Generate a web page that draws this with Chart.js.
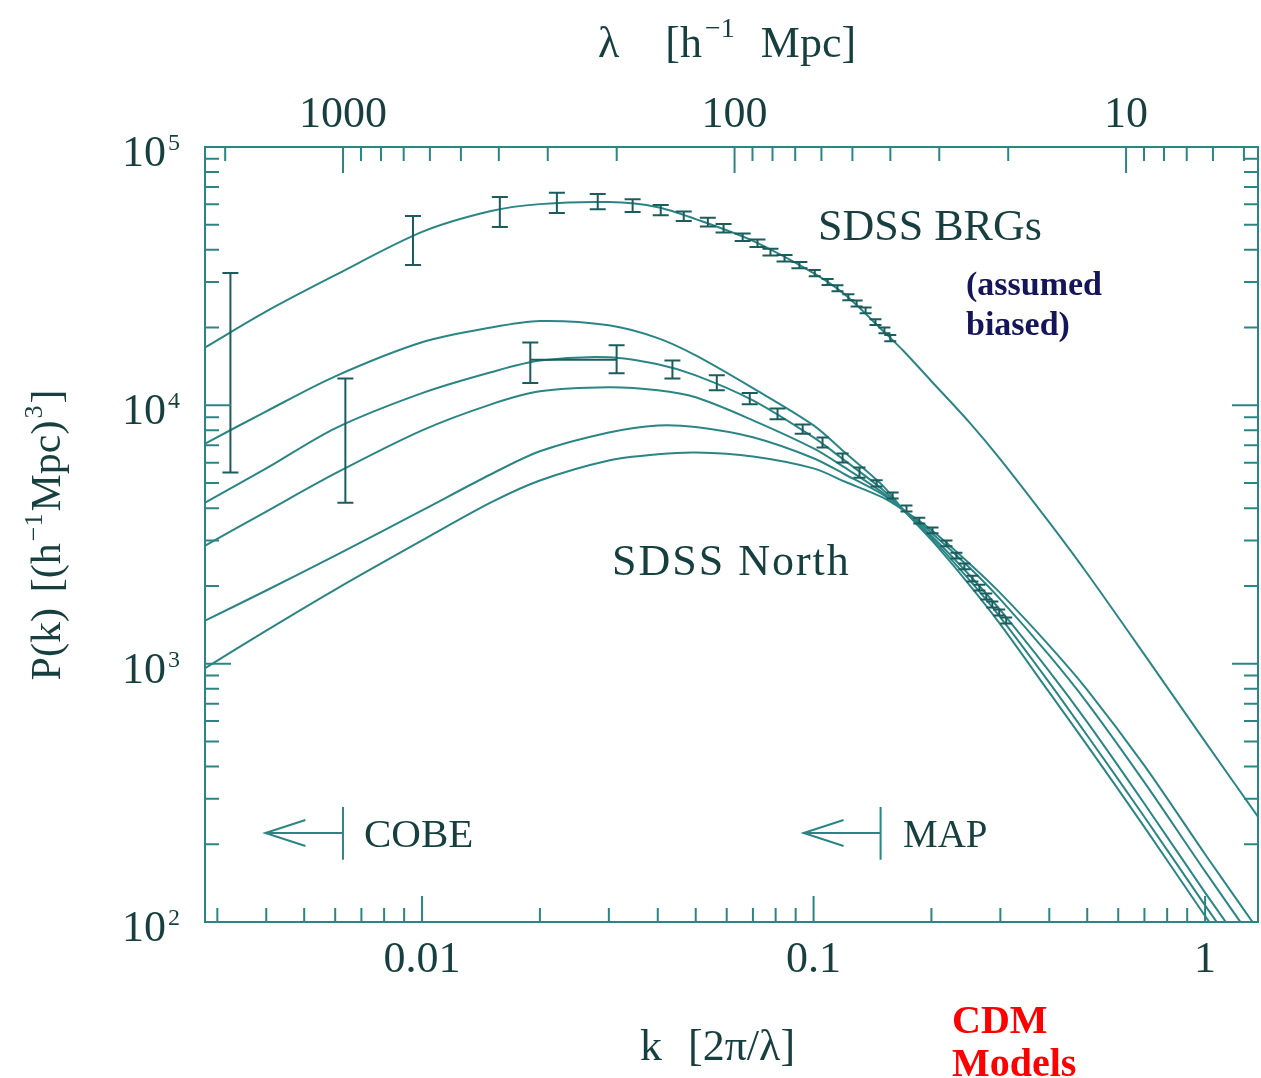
<!DOCTYPE html>
<html>
<head>
<meta charset="utf-8">
<script src="https://cdn.jsdelivr.net/npm/chart.js@4.4.1/dist/chart.umd.min.js"></script>
<style>
  html, body { margin: 0; padding: 0; background: #fff; }
  #wrap { width: 1261px; height: 1078px; }
</style>
</head>
<body>
<div id="wrap"><canvas id="pk" width="1261" height="1078"></canvas></div>
<script>
const kModel = [0.0028, 0.004, 0.006, 0.01, 0.015, 0.02, 0.03, 0.04, 0.05, 0.07, 0.1, 0.12, 0.15, 0.17, 0.2, 0.25, 0.3, 0.4, 0.5, 0.7, 1.0, 1.4];

// CDM model curves, P(k)
const pBRG    = [16800, 23100, 31900, 46900, 56500, 60100, 61200, 58500, 52600, 43300, 32500, 26900, 19500, 16200, 12400, 8590, 6180, 3520, 2233, 1084, 499, 242];
const pModelA = [7130, 9480, 12950, 17540, 20000, 21200, 20400, 18200, 15600, 11650, 8360, 6580, 4900, 3920, 3013, 2018, 1419, 774, 483, 233, 105.5, 51];
const pModelB = [4210, 5700, 8150, 11150, 13430, 14900, 15350, 14420, 13060, 10450, 7510, 6120, 4720, 3920, 3069, 2109, 1511, 845, 527, 255, 116, 55.8];
const pModelC = [2870, 3880, 5450, 8000, 10090, 11330, 11740, 11430, 10740, 8750, 6810, 5750, 4600, 3920, 3127, 2203, 1611, 934, 594, 287, 130, 63];
const pModelD = [1470, 1920, 2620, 3920, 5410, 6640, 7850, 8360, 8240, 7520, 6240, 5410, 4520, 3920, 3214, 2356, 1774, 1076, 705, 347, 157, 75.7];
const pModelE = [964, 1343, 1936, 3000, 4210, 5120, 6120, 6460, 6570, 6340, 5700, 5070, 4400, 3920, 3290, 2443, 1875, 1175, 792, 403, 183, 88.3];

// SDSS BRG forecast points
const kBRG = [0.00324, 0.00948, 0.0158, 0.0221, 0.0281, 0.0345, 0.0407, 0.0466, 0.0537, 0.0589, 0.0659, 0.0719, 0.0776, 0.0843, 0.0920, 0.1007, 0.1086, 0.1151, 0.1227, 0.1288, 0.1358, 0.1439, 0.1517, 0.1570];
const pBRGdata = [19000, 44500, 56500, 61000, 61600, 59400, 57000, 54000, 51200, 48500, 44800, 42400, 39200, 37100, 34900, 32500, 30000, 28400, 26200, 24800, 23300, 21000, 19500, 18200];
const eBRG = [13500, 9600, 7500, 5500, 4200, 3400, 2600, 2300, 2000, 1800, 1500, 1400, 1200, 1100, 1000, 900, 800, 750, 700, 650, 600, 550, 500, 500];

// SDSS North forecast points
const kNorth = [0.00637, 0.0189, 0.0314, 0.0436, 0.0566, 0.0687, 0.0809, 0.0938, 0.1054, 0.1186, 0.1310, 0.1449, 0.1592, 0.1727, 0.1862, 0.2013, 0.2185, 0.2317, 0.2428, 0.2545, 0.2652, 0.2762, 0.2862, 0.2980, 0.3105];
const pNorth = [8450, 14850, 15200, 13800, 12250, 10620, 9280, 8100, 7190, 6260, 5500, 4990, 4480, 3990, 3580, 3280, 2920, 2620, 2380, 2135, 1970, 1820, 1695, 1578, 1470];
const eNorth = [4250, 2650, 1900, 1100, 820, 530, 450, 330, 320, 250, 250, 135, 120, 105, 95, 85, 75, 68, 60, 55, 50, 47, 44, 41, 38];
const northSpanK = [0.0189, 0.0314];
const northSpanP = 15000;

// axis ticks
const kMajor = [0.01, 0.1, 1];
const kMajorLabels = ['0.01', '0.1', '1'];
const kMinor = [0.003, 0.004, 0.005, 0.006, 0.007, 0.008, 0.009, 0.02, 0.03, 0.04, 0.05, 0.06, 0.07, 0.08, 0.09, 0.2, 0.3, 0.4, 0.5, 0.6, 0.7, 0.8, 0.9];
const lamMajor = [1000, 100, 10];
const lamMajorLabels = ['1000', '100', '10'];
const lamMinor = [2000, 900, 800, 700, 600, 500, 400, 300, 200, 90, 80, 70, 60, 50, 40, 30, 20, 9, 8, 7, 6, 5];
const pMajor = [100, 1000, 10000, 100000];
const pMajorExp = ['2', '3', '4', '5'];
const pMinor = [200, 300, 400, 500, 600, 700, 800, 900, 2000, 3000, 4000, 5000, 6000, 7000, 8000, 9000, 20000, 30000, 40000, 50000, 60000, 70000, 80000, 90000];

// survey limits (COBE, MAP) : arrow tip k, bar k
const cobeK = [0.00398, 0.00628];
const mapK = [0.0943, 0.1483];
const limitP = 221;
const limitBarP = [174, 279];

const lineColor = '#2b8585';
const barColor = '#1c5c5c';
const ink = '#173f3f';
const serif = '"Liberation Serif", "Times New Roman", serif';

function pts(ks, ps) {
  return ks.map((k, i) => ({ x: k, y: ps[i] }));
}

function model(vals) {
  return {
    data: pts(kModel, vals),
    showLine: true,
    borderColor: lineColor,
    borderWidth: 2,
    pointRadius: 0,
    tension: 0.3,
    fill: false
  };
}

// draws a run of [text, size, raise, gap] pieces starting at x
function rich(ctx, parts, x, y) {
  let cx = x;
  parts.forEach(([txt, size, raise, gap]) => {
    ctx.font = size + 'px ' + serif;
    ctx.fillText(txt, cx, y - (raise || 0));
    cx += ctx.measureText(txt).width + (gap || 0);
  });
  return cx - x;
}

const errorBars = {
  id: 'errorBars',
  afterDatasetsDraw(chart) {
    const { ctx, chartArea: a, scales: { x, y } } = chart;
    ctx.save();
    ctx.beginPath();
    ctx.rect(a.left, a.top, a.right - a.left, a.bottom - a.top);
    ctx.clip();
    ctx.strokeStyle = barColor;
    ctx.lineWidth = 2;
    chart.data.datasets.forEach(ds => {
      if (!ds.errors) return;
      ds.data.forEach((pt, i) => {
        const px = x.getPixelForValue(pt.x);
        const e = ds.errors[i];
        const y1 = y.getPixelForValue(pt.y + e);
        const y2 = y.getPixelForValue(pt.y - e);
        const cw = pt.x < 0.1 ? 8 : 6;
        ctx.beginPath();
        ctx.moveTo(px, y1); ctx.lineTo(px, y2);
        ctx.moveTo(px - cw, y1); ctx.lineTo(px + cw, y1);
        ctx.moveTo(px - cw, y2); ctx.lineTo(px + cw, y2);
        ctx.stroke();
      });
    });
    // horizontal bin bar of the SDSS North point
    ctx.beginPath();
    const sy = y.getPixelForValue(northSpanP);
    ctx.moveTo(x.getPixelForValue(northSpanK[0]), sy);
    ctx.lineTo(x.getPixelForValue(northSpanK[1]), sy);
    ctx.stroke();
    ctx.restore();
  }
};

const decor = {
  id: 'decor',
  afterDraw(chart) {
    const { ctx, chartArea: a, scales: { x, y } } = chart;
    ctx.save();
    ctx.strokeStyle = lineColor;
    ctx.lineWidth = 2;
    ctx.strokeRect(a.left, a.top, a.right - a.left, a.bottom - a.top);

    const major = 26, minor = 14;
    ctx.beginPath();
    kMajor.forEach(k => { const px = x.getPixelForValue(k); ctx.moveTo(px, a.bottom); ctx.lineTo(px, a.bottom - major); });
    kMinor.forEach(k => { const px = x.getPixelForValue(k); ctx.moveTo(px, a.bottom); ctx.lineTo(px, a.bottom - minor); });
    lamMajor.forEach(l => { const px = x.getPixelForValue(2 * Math.PI / l); ctx.moveTo(px, a.top); ctx.lineTo(px, a.top + major); });
    lamMinor.forEach(l => { const px = x.getPixelForValue(2 * Math.PI / l); ctx.moveTo(px, a.top); ctx.lineTo(px, a.top + minor); });
    pMajor.forEach(p => {
      const py = y.getPixelForValue(p);
      ctx.moveTo(a.left, py); ctx.lineTo(a.left + major, py);
      ctx.moveTo(a.right, py); ctx.lineTo(a.right - major, py);
    });
    pMinor.forEach(p => {
      const py = y.getPixelForValue(p);
      ctx.moveTo(a.left, py); ctx.lineTo(a.left + minor, py);
      ctx.moveTo(a.right, py); ctx.lineTo(a.right - minor, py);
    });
    ctx.stroke();

    ctx.fillStyle = ink;
    ctx.textBaseline = 'alphabetic';

    // bottom k labels
    ctx.font = '44px ' + serif;
    ctx.textAlign = 'center';
    kMajor.forEach((k, i) => ctx.fillText(kMajorLabels[i], x.getPixelForValue(k), a.bottom + 50));
    // top lambda labels
    lamMajor.forEach((l, i) => ctx.fillText(lamMajorLabels[i], x.getPixelForValue(2 * Math.PI / l), a.top - 20));

    // left P labels 10^n
    ctx.textAlign = 'left';
    pMajor.forEach((p, i) => {
      const py = y.getPixelForValue(p);
      ctx.font = '44px ' + serif;
      const w10 = ctx.measureText('10').width;
      ctx.font = '24px ' + serif;
      const ws = ctx.measureText(pMajorExp[i]).width;
      const x0 = 180 - ws - 2 - w10;
      ctx.font = '44px ' + serif;
      ctx.fillText('10', x0, py + 19);
      ctx.font = '24px ' + serif;
      ctx.fillText(pMajorExp[i], x0 + w10 + 2, py + 3);
    });

    // axis titles
    rich(ctx, [['\u03bb', 44, 0, 46], ['[h', 44, 0, 3], ['\u22121', 28, 20, 26], ['Mpc]', 44, 0]], 598, 57);
    rich(ctx, [['k', 44, 0, 26], ['[2\u03c0/\u03bb]', 44, 0]], 640, 1060);

    ctx.save();
    ctx.translate(60, 535);
    ctx.rotate(-Math.PI / 2);
    const parts = [['P(k)', 42, 0, 16], ['[(h', 42, 0, 2], ['\u22121', 26, 18, 2], ['Mpc)', 42, 0, 2], ['3', 26, 18, 2], [']', 42, 0]];
    let tw = 0;
    parts.forEach(([t, s, r, g]) => { ctx.font = s + 'px ' + serif; tw += ctx.measureText(t).width + (g || 0); });
    rich(ctx, parts, -tw / 2, 0);
    ctx.restore();

    // survey labels
    ctx.font = '44px ' + serif;
    ctx.fillText('SDSS BRGs', 818, 240);
    ctx.letterSpacing = '2px';
    ctx.fillText('SDSS North', 612, 575);
    ctx.letterSpacing = '0px';
    ctx.font = '41px ' + serif;
    ctx.fillText('COBE', 364, 847);
    ctx.font = '39px ' + serif;
    ctx.fillText('MAP', 903, 847);

    // COBE / MAP limit arrows
    ctx.strokeStyle = lineColor;
    ctx.lineWidth = 2;
    [cobeK, mapK].forEach(([tipK, barK]) => {
      const tx = x.getPixelForValue(tipK), bx = x.getPixelForValue(barK);
      const yy = y.getPixelForValue(limitP);
      const yt = y.getPixelForValue(limitBarP[1]), yb = y.getPixelForValue(limitBarP[0]);
      ctx.beginPath();
      ctx.moveTo(tx, yy); ctx.lineTo(bx, yy);
      ctx.moveTo(bx, yt); ctx.lineTo(bx, yb);
      ctx.moveTo(tx + 40, yy - 13); ctx.lineTo(tx, yy); ctx.lineTo(tx + 40, yy + 13);
      ctx.stroke();
    });

    // overlaid notes
    ctx.fillStyle = '#15155a';
    ctx.font = 'bold 34px ' + serif;
    ctx.fillText('(assumed', 966, 295);
    ctx.fillText('biased)', 966, 335);
    ctx.fillStyle = '#ff0000';
    ctx.font = 'bold 40px ' + serif;
    ctx.fillText('CDM', 952, 1033);
    ctx.fillText('Models', 952, 1076);
    ctx.restore();
  }
};

new Chart(document.getElementById('pk'), {
  type: 'scatter',
  data: {
    datasets: [
      model(pBRG),
      model(pModelA),
      model(pModelB),
      model(pModelC),
      model(pModelD),
      model(pModelE),
      { data: pts(kBRG, pBRGdata), errors: eBRG, pointRadius: 0, showLine: false },
      { data: pts(kNorth, pNorth), errors: eNorth, pointRadius: 0, showLine: false }
    ]
  },
  options: {
    responsive: false,
    devicePixelRatio: 1,
    animation: false,
    layout: { padding: { left: 205, top: 147, right: 3, bottom: 156 } },
    scales: {
      x: { type: 'logarithmic', min: 0.00279, max: 1.365, display: false },
      y: { type: 'logarithmic', min: 100, max: 100000, display: false }
    },
    plugins: {
      legend: { display: false },
      tooltip: { enabled: false }
    }
  },
  plugins: [errorBars, decor]
});
</script>
</body>
</html>
